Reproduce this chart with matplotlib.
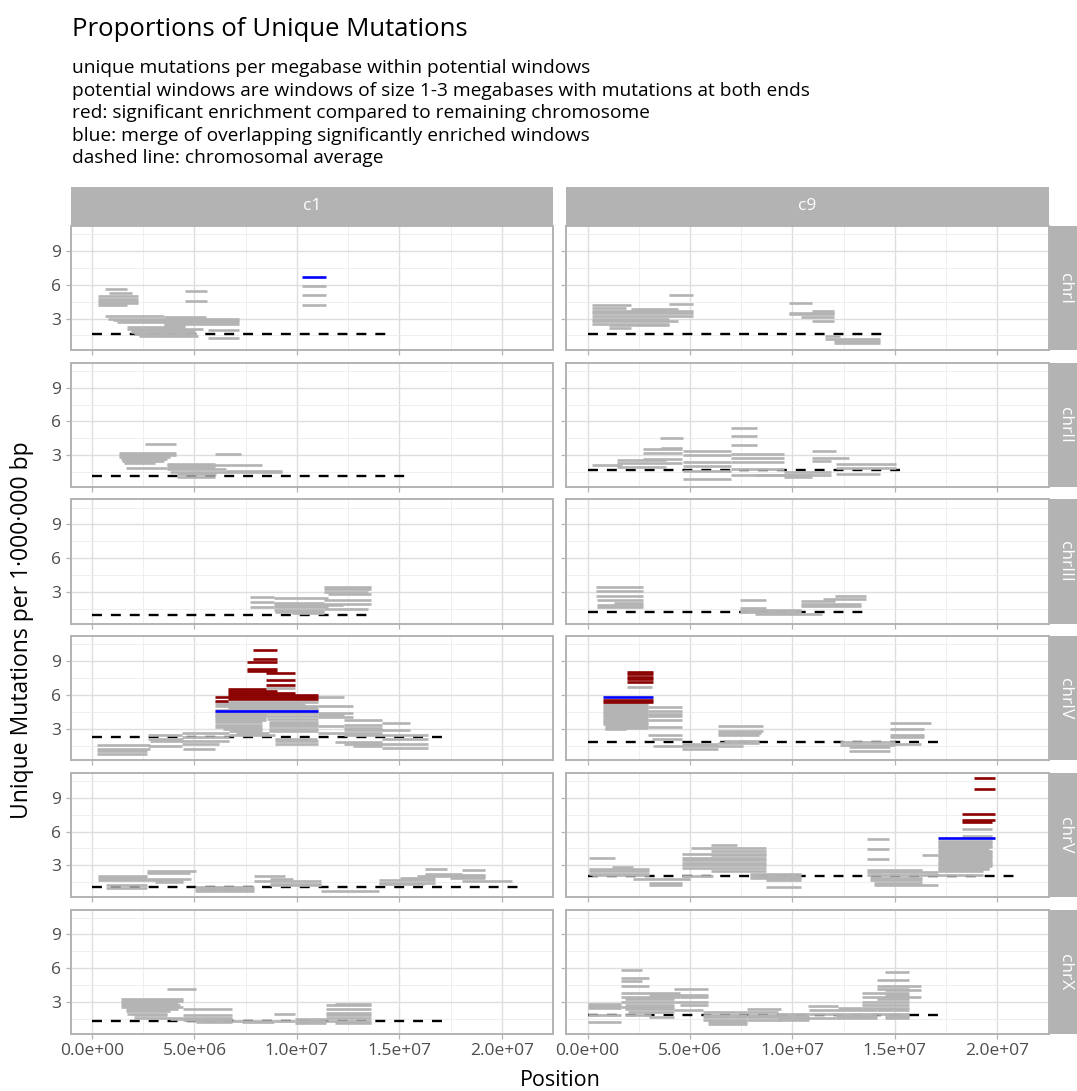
import matplotlib
matplotlib.use("Agg")
import matplotlib.pyplot as plt

plt.rcParams['font.family'] = ['Open Sans', 'DejaVu Sans']

samples = ["c1", "c9"]
chroms = ["chrI", "chrII", "chrIII", "chrIV", "chrV", "chrX"]

# windows: (start Mb, end Mb, unique mutations per Mb, kind)
# kind: n = potential window, s = significantly enriched, m = merged enriched windows
c1_chrI = [
    (0.63, 1.72, 5.64, 'n'), (0.84, 1.96, 5.23, 'n'), (0.27, 2.25, 4.99, 'n'),
    (0.27, 2.25, 4.78, 'n'), (0.27, 2.25, 4.54, 'n'), (0.27, 2.25, 4.37, 'n'),
    (0.27, 1.72, 4.19, 'n'), (4.53, 5.62, 5.49, 'n'), (4.53, 5.62, 4.57, 'n'),
    (10.23, 11.44, 5.88, 'n'), (10.23, 11.44, 5.05, 'n'), (10.23, 11.44, 4.19, 'n'),
    (0.63, 3.49, 3.21, 'n'), (3.49, 5.57, 3.12, 'n'), (0.76, 7.15, 3.00, 'n'),
    (1.00, 7.15, 2.85, 'n'), (1.24, 7.15, 2.70, 'n'), (3.49, 7.15, 2.55, 'n'),
    (3.49, 4.53, 2.41, 'n'), (1.72, 4.53, 2.26, 'n'), (1.72, 5.41, 2.11, 'n'),
    (1.88, 5.01, 1.96, 'n'), (5.65, 7.15, 1.96, 'n'), (1.88, 5.01, 1.81, 'n'),
    (2.04, 5.09, 1.64, 'n'), (2.28, 5.17, 1.49, 'n'), (5.65, 7.15, 1.31, 'n'),
    (10.23, 11.44, 6.71, 'm'),
]
c9_chrI = [
    (3.97, 5.16, 5.11, 'n'), (3.97, 5.16, 4.28, 'n'), (0.21, 2.14, 4.19, 'n'),
    (0.21, 1.90, 3.98, 'n'), (2.14, 4.44, 3.83, 'n'), (0.21, 5.16, 3.65, 'n'),
    (0.21, 5.16, 3.45, 'n'), (0.21, 5.16, 3.24, 'n'), (0.21, 3.97, 3.00, 'n'),
    (0.21, 4.44, 2.76, 'n'), (0.21, 1.03, 2.55, 'n'), (1.03, 3.97, 2.55, 'n'),
    (1.03, 3.97, 2.41, 'n'), (1.03, 2.14, 2.17, 'n'), (9.81, 10.95, 4.42, 'n'),
    (10.95, 12.03, 3.71, 'n'), (9.81, 12.03, 3.53, 'n'), (9.81, 12.03, 3.36, 'n'),
    (10.40, 12.03, 3.15, 'n'), (10.95, 12.03, 2.76, 'n'), (11.59, 12.30, 1.46, 'n'),
    (11.59, 14.29, 1.22, 'n'), (12.03, 14.29, 1.04, 'n'), (12.03, 14.29, 0.86, 'n'),
]
c1_chrII = [
    (2.60, 4.10, 3.98, 'n'), (1.32, 4.10, 3.24, 'n'), (1.32, 4.10, 3.06, 'n'),
    (1.32, 3.81, 2.88, 'n'), (1.40, 3.65, 2.70, 'n'), (1.48, 3.49, 2.53, 'n'),
    (1.56, 3.08, 2.35, 'n'), (1.64, 3.65, 1.84, 'n'), (5.98, 7.26, 3.09, 'n'),
    (3.65, 5.98, 2.26, 'n'), (3.65, 8.31, 2.11, 'n'), (3.65, 5.98, 1.93, 'n'),
    (3.65, 6.54, 1.75, 'n'), (6.54, 9.27, 1.64, 'n'), (3.81, 9.27, 1.52, 'n'),
    (4.13, 6.06, 1.34, 'n'), (4.13, 5.98, 1.10, 'n'),
]
c9_chrII = [
    (7.02, 8.25, 5.43, 'n'), (7.02, 8.25, 4.69, 'n'), (7.02, 8.25, 3.95, 'n'),
    (3.54, 4.65, 4.54, 'n'), (2.70, 4.60, 3.59, 'n'), (3.57, 4.60, 3.68, 'n'),
    (4.65, 6.98, 3.42, 'n'), (2.70, 4.60, 3.21, 'n'), (7.02, 9.57, 3.15, 'n'),
    (10.98, 12.14, 3.36, 'n'), (4.65, 6.98, 3.00, 'n'), (7.02, 9.57, 2.76, 'n'),
    (10.98, 12.75, 2.79, 'n'), (2.70, 4.60, 2.70, 'n'), (1.43, 3.81, 2.61, 'n'),
    (10.98, 11.90, 2.53, 'n'), (4.65, 6.98, 2.41, 'n'), (7.02, 9.57, 2.41, 'n'),
    (1.43, 4.60, 2.32, 'n'), (12.14, 15.08, 2.26, 'n'), (0.21, 1.67, 2.11, 'n'),
    (4.65, 6.98, 2.05, 'n'), (1.43, 3.81, 1.96, 'n'), (12.14, 15.08, 1.87, 'n'),
    (7.02, 9.57, 1.75, 'n'), (4.65, 6.98, 1.58, 'n'), (9.57, 11.90, 1.52, 'n'),
    (12.14, 14.29, 1.37, 'n'), (7.02, 11.90, 1.28, 'n'), (8.17, 10.95, 1.22, 'n'),
    (9.57, 10.95, 1.10, 'n'), (4.65, 6.98, 0.86, 'n'),
]
c1_chrIII = [
    (11.33, 13.61, 3.45, 'n'), (11.33, 13.61, 3.24, 'n'), (11.33, 13.45, 3.00, 'n'),
    (11.52, 13.61, 2.79, 'n'), (7.69, 8.87, 2.58, 'n'), (8.87, 11.52, 2.47, 'n'),
    (11.33, 13.61, 2.32, 'n'), (7.69, 8.87, 2.11, 'n'), (8.87, 11.33, 2.02, 'n'),
    (11.33, 13.61, 1.90, 'n'), (8.87, 12.24, 1.81, 'n'), (7.69, 8.87, 1.66, 'n'),
    (8.87, 11.52, 1.64, 'n'), (11.33, 13.45, 1.52, 'n'), (8.87, 11.33, 1.37, 'n'),
    (8.95, 11.33, 1.22, 'n'), (9.75, 11.33, 1.10, 'n'),
]
c9_chrIII = [
    (0.40, 2.70, 3.45, 'n'), (0.40, 2.70, 3.06, 'n'), (0.40, 2.70, 2.64, 'n'),
    (0.48, 2.70, 2.26, 'n'), (1.27, 2.70, 2.05, 'n'), (0.48, 2.70, 1.87, 'n'),
    (0.48, 2.70, 1.66, 'n'), (7.43, 8.73, 2.29, 'n'), (7.43, 8.73, 1.58, 'n'),
    (7.43, 10.40, 1.43, 'n'), (7.43, 10.40, 1.22, 'n'), (8.17, 11.43, 1.04, 'n'),
    (12.06, 13.57, 2.61, 'n'), (11.51, 13.57, 2.41, 'n'), (10.40, 12.06, 2.17, 'n'),
    (10.40, 13.33, 1.96, 'n'), (10.40, 13.33, 1.75, 'n'),
]
c1_chrIV = [
    (7.86, 9.03, 9.97, 's'), (7.86, 9.03, 9.17, 's'), (7.58, 9.03, 8.93, 's'),
    (7.58, 9.03, 8.28, 's'), (7.58, 9.03, 8.10, 's'), (8.47, 9.91, 7.90, 's'),
    (8.47, 9.91, 7.36, 's'), (8.47, 9.91, 6.92, 's'), (6.62, 8.47, 6.56, 's'),
    (6.62, 9.03, 6.38, 's'), (6.62, 9.91, 6.20, 's'), (6.62, 11.04, 6.03, 's'),
    (6.01, 11.04, 5.85, 's'), (6.62, 11.04, 5.67, 's'), (6.01, 6.62, 5.49, 's'),
    (8.47, 9.91, 6.65, 'n'), (11.04, 12.29, 5.82, 'n'), (6.01, 11.04, 5.37, 'n'),
    (6.01, 10.39, 5.20, 'n'), (6.01, 11.04, 5.02, 'n'), (11.04, 12.72, 5.02, 'n'),
    (6.62, 11.04, 4.85, 'n'), (6.01, 11.04, 4.70, 'n'), (6.01, 11.04, 4.40, 'n'),
    (11.04, 12.72, 4.42, 'n'), (6.01, 8.47, 4.25, 'n'), (11.04, 12.29, 4.19, 'n'),
    (6.01, 11.04, 4.10, 'n'), (11.04, 12.72, 4.04, 'n'), (6.01, 8.47, 3.95, 'n'),
    (8.55, 11.04, 3.85, 'n'), (6.01, 8.47, 3.75, 'n'), (12.29, 14.17, 3.74, 'n'),
    (8.63, 11.04, 3.62, 'n'), (6.01, 8.31, 3.55, 'n'), (14.17, 15.50, 3.53, 'n'),
    (8.63, 11.04, 3.42, 'n'), (12.29, 14.17, 3.36, 'n'), (6.01, 8.31, 3.35, 'n'),
    (11.04, 12.29, 3.24, 'n'), (8.63, 11.04, 3.20, 'n'), (6.01, 8.31, 3.15, 'n'),
    (12.29, 14.17, 3.06, 'n'), (8.63, 11.04, 3.00, 'n'), (6.38, 8.31, 2.95, 'n'),
    (12.29, 15.50, 2.85, 'n'), (8.63, 11.04, 2.80, 'n'), (6.70, 8.31, 2.75, 'n'),
    (11.04, 14.17, 2.64, 'n'), (7.02, 8.63, 2.60, 'n'), (12.29, 16.42, 2.41, 'n'),
    (14.17, 16.42, 2.05, 'n'), (11.84, 14.17, 1.81, 'n'), (12.29, 16.42, 1.64, 'n'),
    (12.72, 14.17, 1.46, 'n'), (14.17, 16.42, 1.31, 'n'), (0.22, 2.84, 1.52, 'n'),
    (0.22, 2.84, 1.22, 'n'), (0.22, 2.68, 0.98, 'n'), (0.22, 2.68, 0.77, 'n'),
    (2.73, 4.37, 2.41, 'n'), (2.73, 4.42, 2.11, 'n'), (2.84, 6.70, 1.87, 'n'),
    (4.37, 6.22, 1.66, 'n'), (2.73, 4.37, 1.43, 'n'), (4.42, 5.98, 1.22, 'n'),
    (4.37, 6.70, 2.61, 'n'), (4.37, 6.70, 2.26, 'n'), (6.70, 8.95, 2.41, 'n'),
    (8.95, 10.96, 2.11, 'n'), (8.95, 11.04, 1.87, 'n'), (8.95, 11.04, 1.61, 'n'),
    (6.01, 11.04, 4.54, 'm'),
]
c9_chrIV = [
    (1.94, 3.21, 7.99, 's'), (1.94, 3.21, 7.81, 's'), (1.94, 3.21, 7.60, 's'),
    (1.94, 3.21, 7.45, 's'), (1.94, 3.21, 7.15, 's'), (0.76, 3.21, 5.52, 's'),
    (0.76, 3.21, 5.37, 's'), (1.94, 3.14, 6.68, 'n'), (0.76, 2.97, 5.20, 'n'),
    (0.76, 2.97, 5.02, 'n'), (0.76, 2.97, 4.85, 'n'), (0.76, 2.97, 4.70, 'n'),
    (0.76, 2.97, 4.50, 'n'), (0.76, 2.97, 4.35, 'n'), (0.76, 2.97, 4.20, 'n'),
    (0.76, 2.97, 4.00, 'n'), (0.76, 2.97, 3.85, 'n'), (0.76, 2.97, 3.70, 'n'),
    (0.76, 2.97, 3.55, 'n'), (0.76, 2.97, 3.40, 'n'), (0.87, 2.97, 3.25, 'n'),
    (0.87, 2.97, 3.10, 'n'), (0.87, 1.90, 2.95, 'n'), (2.97, 4.60, 4.93, 'n'),
    (2.97, 4.60, 4.54, 'n'), (2.97, 4.60, 4.34, 'n'), (2.97, 4.60, 4.10, 'n'),
    (2.97, 4.60, 3.74, 'n'), (2.97, 4.60, 3.15, 'n'), (2.97, 4.60, 2.47, 'n'),
    (3.17, 4.60, 2.05, 'n'), (3.21, 7.57, 1.43, 'n'), (4.60, 6.35, 1.22, 'n'),
    (4.60, 6.35, 1.66, 'n'), (6.35, 8.57, 3.21, 'n'), (6.35, 8.57, 2.76, 'n'),
    (6.35, 8.49, 2.61, 'n'), (6.35, 8.37, 2.41, 'n'), (6.67, 8.37, 1.87, 'n'),
    (6.35, 8.37, 1.72, 'n'), (12.30, 15.00, 1.81, 'n'), (12.30, 15.00, 1.58, 'n'),
    (12.75, 14.76, 1.34, 'n'), (12.75, 14.76, 0.98, 'n'), (14.76, 16.75, 3.53, 'n'),
    (14.76, 16.43, 2.94, 'n'), (14.76, 16.43, 2.47, 'n'), (14.76, 16.43, 2.26, 'n'),
    (14.76, 16.27, 1.66, 'n'), (0.76, 3.21, 5.79, 'm'),
]
c1_chrV = [
    (2.68, 5.06, 2.47, 'n'), (2.68, 4.77, 2.32, 'n'), (0.27, 2.68, 2.05, 'n'),
    (0.27, 2.68, 1.87, 'n'), (2.68, 4.85, 1.75, 'n'), (0.27, 4.45, 1.66, 'n'),
    (3.08, 4.45, 1.52, 'n'), (0.67, 2.68, 1.22, 'n'), (0.67, 2.68, 0.98, 'n'),
    (5.01, 7.90, 1.07, 'n'), (5.01, 7.90, 0.86, 'n'), (5.01, 7.90, 0.69, 'n'),
    (7.90, 9.43, 2.02, 'n'), (8.71, 9.83, 1.75, 'n'), (7.90, 11.16, 1.58, 'n'),
    (8.71, 11.16, 1.37, 'n'), (8.71, 11.16, 1.22, 'n'), (11.16, 14.01, 0.69, 'n'),
    (14.01, 16.74, 1.66, 'n'), (14.01, 16.74, 1.43, 'n'), (14.01, 16.18, 1.31, 'n'),
    (15.05, 16.74, 1.87, 'n'), (15.86, 19.20, 2.05, 'n'), (16.26, 17.33, 2.64, 'n'),
    (18.07, 19.20, 2.55, 'n'), (16.26, 18.07, 2.26, 'n'), (16.26, 19.20, 2.11, 'n'),
    (17.46, 19.20, 1.87, 'n'), (18.07, 20.48, 1.61, 'n'),
]
c9_chrV = [
    (18.86, 19.89, 10.77, 's'), (18.86, 19.89, 9.77, 's'), (18.30, 19.89, 7.60, 's'),
    (18.30, 19.89, 7.01, 's'), (18.30, 19.76, 6.86, 's'), (18.30, 19.76, 6.20, 'n'),
    (18.30, 19.76, 5.61, 'n'), (17.11, 19.76, 5.20, 'n'), (17.11, 19.76, 5.05, 'n'),
    (17.11, 19.76, 4.90, 'n'), (17.11, 19.76, 4.75, 'n'), (17.11, 19.76, 4.60, 'n'),
    (17.11, 19.60, 4.45, 'n'), (17.11, 19.76, 4.30, 'n'), (17.11, 19.76, 4.15, 'n'),
    (17.11, 19.76, 4.00, 'n'), (17.11, 19.76, 3.85, 'n'), (17.11, 19.76, 3.70, 'n'),
    (17.11, 19.76, 3.55, 'n'), (17.11, 19.76, 3.40, 'n'), (17.11, 19.76, 3.25, 'n'),
    (17.11, 19.76, 3.10, 'n'), (17.11, 19.76, 2.95, 'n'), (17.11, 19.60, 2.80, 'n'),
    (17.11, 19.60, 2.65, 'n'), (17.11, 19.29, 2.50, 'n'), (16.32, 17.11, 3.89, 'n'),
    (13.65, 16.32, 2.55, 'n'), (13.65, 17.11, 2.41, 'n'), (13.65, 19.29, 2.11, 'n'),
    (13.81, 16.32, 1.87, 'n'), (13.81, 16.32, 1.66, 'n'), (13.97, 16.32, 1.43, 'n'),
    (13.97, 17.11, 1.22, 'n'), (13.65, 14.73, 5.31, 'n'), (13.65, 14.73, 4.42, 'n'),
    (13.65, 14.73, 3.53, 'n'), (0.05, 1.35, 3.65, 'n'), (1.19, 2.22, 2.85, 'n'),
    (0.05, 3.02, 2.64, 'n'), (0.05, 3.02, 2.47, 'n'), (0.05, 3.02, 2.26, 'n'),
    (0.24, 3.02, 2.11, 'n'), (2.22, 5.00, 1.75, 'n'), (3.02, 4.60, 1.46, 'n'),
    (3.02, 4.60, 1.28, 'n'), (6.03, 7.30, 4.84, 'n'), (5.05, 8.70, 4.54, 'n'),
    (6.03, 8.70, 4.25, 'n'), (4.60, 8.70, 4.04, 'n'), (6.03, 8.70, 3.89, 'n'),
    (4.60, 8.70, 3.65, 'n'), (4.60, 8.70, 3.45, 'n'), (4.60, 8.70, 3.24, 'n'),
    (4.60, 8.70, 3.00, 'n'), (4.60, 8.70, 2.76, 'n'), (6.03, 8.70, 2.53, 'n'),
    (7.94, 10.44, 2.26, 'n'), (4.60, 6.11, 2.05, 'n'), (7.94, 10.44, 2.05, 'n'),
    (7.94, 10.44, 1.87, 'n'), (8.70, 10.44, 1.66, 'n'), (8.70, 10.44, 1.07, 'n'),
    (17.11, 19.89, 5.43, 'm'),
]
c1_chrX = [
    (3.65, 5.06, 4.16, 'n'), (1.40, 4.45, 3.24, 'n'), (1.40, 4.45, 3.06, 'n'),
    (1.40, 4.21, 2.88, 'n'), (1.40, 4.29, 2.70, 'n'), (1.40, 4.45, 2.53, 'n'),
    (1.64, 4.21, 2.35, 'n'), (1.64, 3.81, 2.17, 'n'), (1.72, 3.65, 1.96, 'n'),
    (2.04, 3.65, 1.81, 'n'), (2.04, 4.45, 1.58, 'n'), (4.45, 6.81, 2.35, 'n'),
    (4.45, 6.81, 1.87, 'n'), (4.45, 6.81, 1.58, 'n'), (4.45, 6.81, 1.37, 'n'),
    (5.09, 6.81, 1.22, 'n'), (3.81, 6.81, 1.52, 'n'), (6.81, 8.87, 1.34, 'n'),
    (7.34, 8.87, 1.22, 'n'), (8.87, 9.91, 1.93, 'n'), (8.87, 9.91, 1.34, 'n'),
    (9.91, 11.44, 1.52, 'n'), (9.91, 11.44, 1.34, 'n'), (9.91, 11.44, 1.16, 'n'),
    (11.84, 13.61, 2.85, 'n'), (11.44, 13.61, 2.76, 'n'), (11.44, 13.61, 2.35, 'n'),
    (11.44, 13.61, 2.02, 'n'), (11.44, 13.61, 1.81, 'n'), (11.44, 13.61, 1.58, 'n'),
    (11.44, 13.61, 1.34, 'n'), (11.84, 13.61, 1.16, 'n'),
]
c9_chrX = [
    (1.63, 2.65, 5.82, 'n'), (1.63, 2.98, 5.17, 'n'), (1.63, 2.65, 4.84, 'n'),
    (1.63, 2.98, 4.39, 'n'), (4.21, 5.87, 4.19, 'n'), (4.21, 5.87, 3.65, 'n'),
    (4.21, 5.87, 3.00, 'n'), (4.21, 5.63, 2.26, 'n'), (1.63, 4.52, 3.83, 'n'),
    (2.98, 4.52, 3.65, 'n'), (1.63, 4.52, 3.45, 'n'), (1.83, 4.21, 3.24, 'n'),
    (1.63, 4.21, 3.00, 'n'), (1.83, 4.21, 2.76, 'n'), (1.63, 4.21, 2.55, 'n'),
    (1.83, 4.21, 2.35, 'n'), (1.98, 4.21, 2.11, 'n'), (1.83, 3.10, 1.87, 'n'),
    (2.98, 4.21, 1.66, 'n'), (0.00, 1.63, 2.85, 'n'), (0.00, 1.63, 2.64, 'n'),
    (0.00, 1.63, 2.47, 'n'), (0.00, 1.63, 1.81, 'n'), (0.00, 1.63, 1.22, 'n'),
    (4.52, 5.87, 3.45, 'n'), (4.52, 5.87, 2.70, 'n'), (5.63, 7.78, 2.11, 'n'),
    (5.63, 7.78, 1.87, 'n'), (5.63, 7.78, 1.66, 'n'), (5.63, 7.78, 1.43, 'n'),
    (5.87, 7.78, 1.22, 'n'), (5.87, 7.78, 1.01, 'n'), (7.78, 9.44, 2.41, 'n'),
    (7.78, 9.29, 2.11, 'n'), (7.78, 9.44, 1.87, 'n'), (7.78, 9.44, 1.66, 'n'),
    (7.78, 9.44, 1.43, 'n'), (9.29, 10.79, 1.96, 'n'), (9.29, 10.79, 1.75, 'n'),
    (9.29, 12.14, 1.58, 'n'), (9.29, 10.79, 1.37, 'n'), (10.76, 12.22, 2.61, 'n'),
    (12.22, 13.38, 2.47, 'n'), (10.79, 14.13, 2.26, 'n'), (10.79, 14.13, 1.96, 'n'),
    (12.14, 14.13, 1.75, 'n'), (12.14, 14.13, 1.58, 'n'), (14.52, 15.71, 5.67, 'n'),
    (14.13, 15.71, 4.93, 'n'), (14.13, 16.27, 4.42, 'n'), (14.13, 15.71, 4.19, 'n'),
    (14.52, 16.27, 4.04, 'n'), (13.41, 15.71, 3.83, 'n'), (14.52, 15.71, 3.65, 'n'),
    (13.41, 16.27, 3.45, 'n'), (14.13, 15.71, 3.24, 'n'), (13.41, 15.71, 3.00, 'n'),
    (13.41, 15.71, 2.76, 'n'), (13.41, 15.71, 2.50, 'n'), (14.13, 15.71, 2.26, 'n'),
    (14.13, 15.71, 1.96, 'n'), (14.52, 15.71, 1.75, 'n'), (14.52, 15.71, 1.58, 'n'),
]

# chromosomal average: (last position Mb, mutations per Mb), one per chromosome
avg_c1 = [(14.65, 1.66), (15.26, 1.19), (13.77, 0.98), (17.30, 2.26), (20.84, 1.07), (17.33, 1.28)]
avg_c9 = [(14.65, 1.66), (15.24, 1.72), (13.81, 1.19), (17.30, 1.81), (20.87, 2.05), (17.35, 1.81)]

windows = {
    "c1": [c1_chrI, c1_chrII, c1_chrIII, c1_chrIV, c1_chrV, c1_chrX],
    "c9": [c9_chrI, c9_chrII, c9_chrIII, c9_chrIV, c9_chrV, c9_chrX],
}
averages = {"c1": avg_c1, "c9": avg_c9}

kind_colors = {'n': '#b3b3b3', 's': '#8b0000', 'm': '#0000ff'}
kind_order = ['n', 's', 'm']

subtitle = [
    "unique mutations per megabase within potential windows",
    "potential windows are windows of size 1-3 megabases with mutations at both ends",
    "red: significant enrichment compared to remaining chromosome",
    "blue: merge of overlapping significantly enriched windows",
    "dashed line: chromosomal average",
]

W, H = 1077, 1091
fig = plt.figure(figsize=(W / 100, H / 100), dpi=100)

col_x = [70.5, 566]
panel_w = 482.5
row_top0 = 226
row_step = 136.7
panel_h = 124.3
strip_h = 39

xticks = [0, 5e6, 1e7, 1.5e7, 2e7]
xminor = [2.5e6, 7.5e6, 1.25e7, 1.75e7, 2.25e7]

for j, s in enumerate(samples):
    for i, chrom in enumerate(chroms):
        top = row_top0 + i * row_step
        ax = fig.add_axes([col_x[j] / W, 1 - (top + panel_h) / H, panel_w / W, panel_h / H])
        ax.set_xlim(-1.05e6, 22.1e6)
        ax.set_ylim(0.18, 11.22)
        ax.set_xticks(xticks)
        ax.set_xticks(xminor, minor=True)
        ax.set_yticks([3, 6, 9])
        ax.set_yticks([1.5, 4.5, 7.5, 10.5], minor=True)
        ax.grid(which='major', color='#dedede', linewidth=1.0)
        ax.grid(which='minor', color='#ececec', linewidth=0.6)
        ax.set_axisbelow(True)
        for sp in ax.spines.values():
            sp.set_color('#b3b3b3')
            sp.set_linewidth(1.4)
        ax.tick_params(which='major', color='#b3b3b3', length=3.5, width=0.9,
                       labelsize=12.5, labelcolor='#4d4d4d', pad=3)
        ax.tick_params(which='minor', length=0)
        if j == 0:
            ax.set_yticklabels(["3", "6", "9"])
        else:
            ax.set_yticklabels([])
        if i == len(chroms) - 1:
            ax.set_xticklabels([f"{v:.1e}" for v in xticks])
        else:
            ax.set_xticklabels([])

        # chromosomal average
        end, rate = averages[s][i]
        ax.plot([0, end * 1e6], [rate, rate], color='black', linewidth=1.7,
                linestyle=(0, (4.2, 3.8)), zorder=2)

        segs = windows[s][i]
        for k in kind_order:
            part = [w for w in segs if w[3] == k]
            if not part:
                continue
            ax.hlines([w[2] for w in part], [w[0] * 1e6 for w in part], [w[1] * 1e6 for w in part],
                      colors=kind_colors[k], linewidth=1.9, zorder=3)

        # facet strips
        if i == 0:
            sax = fig.add_axes([col_x[j] / W, 1 - top / H, panel_w / W, strip_h / H])
            sax.set_facecolor('#b3b3b3')
            sax.set_xticks([])
            sax.set_yticks([])
            for sp in sax.spines.values():
                sp.set_visible(False)
            sax.text(0.5, 0.5, s, color='white', fontsize=12.5, ha='center', va='center',
                     transform=sax.transAxes)
        if j == 1:
            rax = fig.add_axes([(col_x[j] + panel_w + 1) / W, 1 - (top + panel_h) / H,
                                strip_h / W, panel_h / H])
            rax.set_facecolor('#b3b3b3')
            rax.set_xticks([])
            rax.set_yticks([])
            for sp in rax.spines.values():
                sp.set_visible(False)
            rax.text(0.4, 0.5, chrom, color='white', fontsize=12.5, ha='center', va='center',
                     rotation=-90, transform=rax.transAxes)

fig.text(72 / W, 1 - 36 / H, "Proportions of Unique Mutations", fontsize=18.5,
         ha='left', va='baseline')
for n, line in enumerate(subtitle):
    fig.text(72 / W, 1 - (73 + n * 22.6) / H, line, fontsize=13.8, ha='left', va='baseline')

fig.text(560 / W, 1 - 1081 / H, "Position", fontsize=15.5, ha='center', va='center')
fig.text(22 / W, 1 - 630 / H, "Unique Mutations per 1·000·000 bp", fontsize=16.5,
         ha='center', va='center', rotation=90)

fig.savefig("out.png", dpi=100)
